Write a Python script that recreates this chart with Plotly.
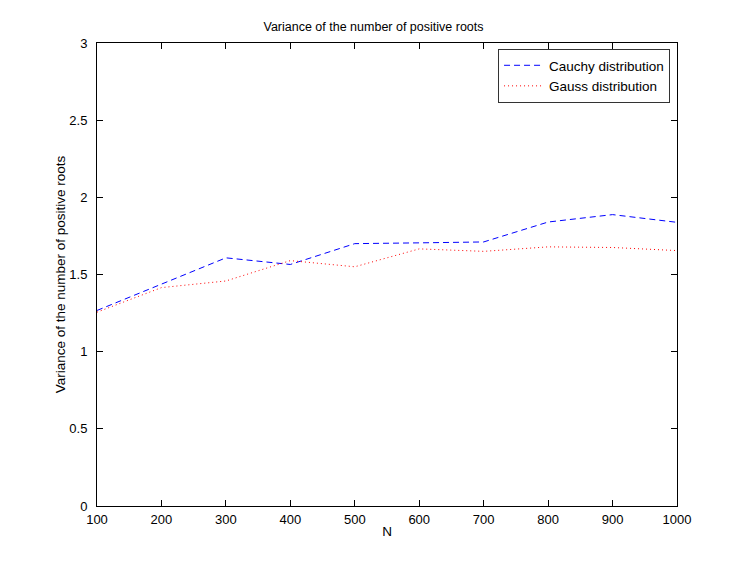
import plotly.graph_objects as go

N = [100, 200, 300, 400, 500, 600, 700, 800, 900, 1000]
cauchy = [1.267, 1.435, 1.608, 1.565, 1.700, 1.705, 1.711, 1.840, 1.888, 1.838]
gauss = [1.256, 1.415, 1.458, 1.590, 1.550, 1.666, 1.650, 1.679, 1.675, 1.655]
x_ticks = [100, 200, 300, 400, 500, 600, 700, 800, 900, 1000]
y_ticks = [0, 0.5, 1, 1.5, 2, 2.5, 3]
y_tick_labels = ["0", "0.5", "1", "1.5", "2", "2.5", "3"]

font = "Liberation Sans, Arial, Helvetica, sans-serif"

W, H = 731, 553  # page body has an 8px margin in the 747x569 window

fig = go.Figure()
fig.add_trace(go.Scatter(x=N, y=cauchy, mode="lines", name="Cauchy distribution",
                         line=dict(color="#0000ff", width=1, dash="6px,4px")))
fig.add_trace(go.Scatter(x=N, y=gauss, mode="lines", name="Gauss distribution",
                         line=dict(color="#ff0000", width=1, dash="1px,3px")))

axis_common = dict(showgrid=False, zeroline=False, showline=True, linecolor="black",
                   linewidth=1, mirror="allticks", ticks="inside", ticklen=6,
                   tickcolor="black", tickfont=dict(family=font, size=13, color="black"))

fig.update_layout(
    width=W, height=H,
    paper_bgcolor="white", plot_bgcolor="white",
    margin=dict(l=89, r=62, t=35, b=55),
    title=dict(text="Variance of the number of positive roots", x=0.5, xref="container",
               xanchor="center", y=1 - 19 / H, yanchor="middle",
               font=dict(family=font, size=12.5, color="black")),
    xaxis=dict(range=[100, 1000], tickvals=x_ticks, ticklabelstandoff=1,
               title=dict(text="N", font=dict(family=font, size=13.5, color="black"), standoff=0),
               **axis_common),
    yaxis=dict(range=[0, 3], tickvals=y_ticks, ticktext=y_tick_labels, ticklabelstandoff=6,
               title=dict(text="Variance of the number of positive roots",
                          font=dict(family=font, size=13.5, color="black"), standoff=0),
               **axis_common),
    legend=dict(x=0.988, y=0.987, xanchor="right", yanchor="top",
                bordercolor="#333333", borderwidth=1, bgcolor="white",
                font=dict(family=font, size=13.5, color="black"),
                tracegroupgap=0, itemwidth=40),
    showlegend=True,
)

fig.write_html("out.html")
